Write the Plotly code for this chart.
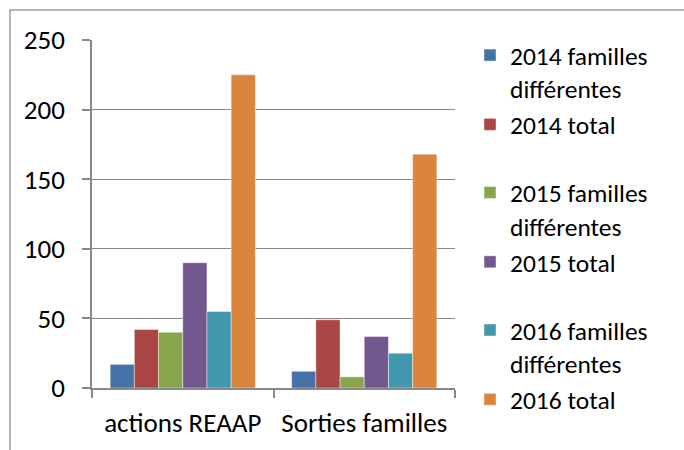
import plotly.graph_objects as go

categories = ["actions REAAP", "Sorties familles"]
series_names = [
    "2014 familles<br>différentes",
    "2014 total",
    "2015 familles<br>différentes",
    "2015 total",
    "2016 familles<br>différentes",
    "2016 total",
]
series_groups = ["2014", "2014", "2015", "2015", "2016", "2016"]
fam_2014 = [17, 12]
tot_2014 = [42, 49]
fam_2015 = [40, 8]
tot_2015 = [90, 37]
fam_2016 = [55, 25]
tot_2016 = [225, 168]
y_ticks = [0, 50, 100, 150, 200, 250]

series_values = [fam_2014, tot_2014, fam_2015, tot_2015, fam_2016, tot_2016]
colors = ["#4572A7", "#AA4643", "#89A54E", "#71588F", "#4198AF", "#DB843D"]

W, H = 684, 450
L, R, T, B = 92, 455, 40, 388
FONT = "Carlito, Lato, sans-serif"
FS = 25.5
TFS = 27


def px_x(px):
    return px / W


def px_y(py):
    return 1 - py / H


fig = go.Figure()
for name, grp, vals, c in zip(series_names, series_groups, series_values, colors):
    fig.add_trace(go.Bar(
        x=categories, y=vals, name=name,
        marker=dict(color=c, line=dict(color="rgba(255,255,255,0.55)", width=0.8)),
        legendgroup=grp,
    ))

fig.update_layout(
    width=W, height=H,
    margin=dict(l=0, r=0, t=0, b=0, pad=0, autoexpand=False),
    paper_bgcolor="white", plot_bgcolor="white",
    barmode="group", bargap=0.2, bargroupgap=0,
    font=dict(family=FONT, size=FS, color="#000000"),
    showlegend=True,
    legend=dict(
        x=px_x(470), y=px_y(32),
        xanchor="left", yanchor="top",
        valign="top", traceorder="grouped", tracegroupgap=32,
        font=dict(family=FONT, size=FS, color="#000000"),
        itemwidth=30, bgcolor="rgba(0,0,0,0)",
    ),
    xaxis=dict(
        domain=[px_x(L), px_x(R)], automargin=False,
        type="category", tickson="boundaries",
        showline=True, linecolor="#888888", linewidth=1.5,
        ticks="outside", ticklen=8, tickcolor="#888888", tickwidth=1.5,
        showgrid=False, tickfont=dict(size=TFS), ticklabelstandoff=10,
    ),
    yaxis=dict(
        domain=[px_y(B), px_y(T)], automargin=False,
        range=[0, 250], tickvals=y_ticks,
        showline=True, linecolor="#888888", linewidth=1.5,
        ticks="outside", ticklen=8, tickcolor="#888888", tickwidth=1.5,
        showgrid=True, gridcolor="#888888", gridwidth=1.2,
        zeroline=False, tickfont=dict(size=TFS), ticklabelstandoff=12,
    ),
    shapes=[dict(
        type="rect", xref="paper", yref="paper",
        x0=px_x(10), x1=px_x(720),
        y0=px_y(480), y1=px_y(10),
        line=dict(color="#9a9a9a", width=1.5), fillcolor="rgba(0,0,0,0)",
        layer="below",
    )],
)

fig.write_html(
    "out.html",
    config={"displayModeBar": False},
    post_script="document.body.style.margin='0';",
)
